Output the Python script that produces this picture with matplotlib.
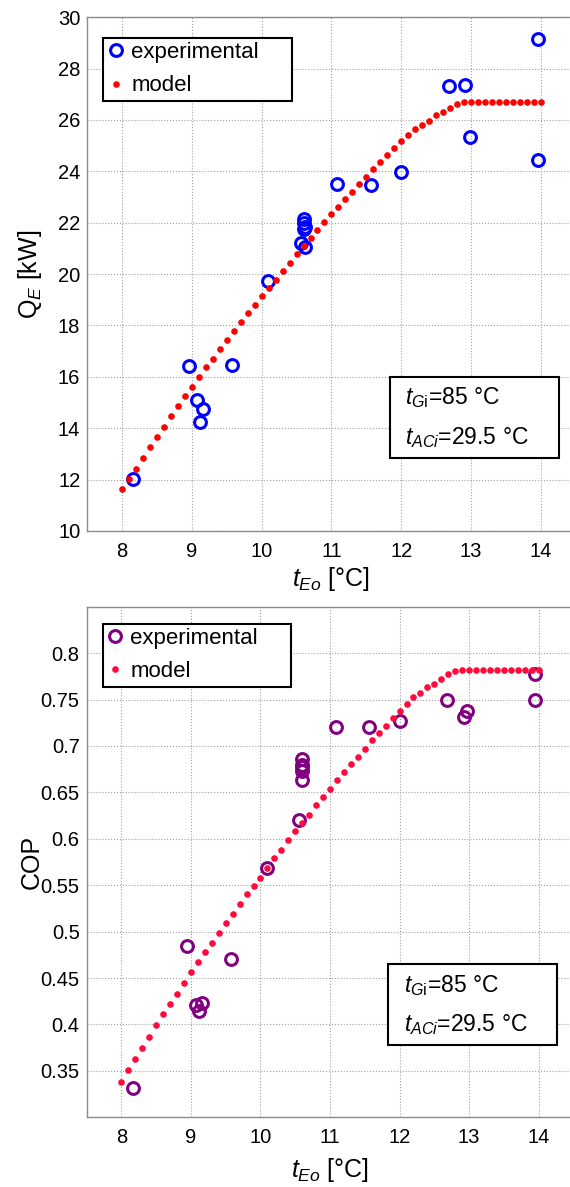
import numpy as np
import matplotlib
matplotlib.use("Agg")
import matplotlib.pyplot as plt
from matplotlib.patches import Rectangle

plt.rcParams['font.family'] = ['Liberation Sans', 'DejaVu Sans']
plt.rcParams['mathtext.fontset'] = 'custom'
plt.rcParams['mathtext.rm'] = 'Liberation Sans'
plt.rcParams['mathtext.it'] = 'Liberation Sans:italic'

# model curve (evaporator outlet temperature grid)
t_model = [8.0, 8.1, 8.2, 8.3, 8.4, 8.5, 8.6, 8.7, 8.8, 8.9,
           9.0, 9.1, 9.2, 9.3, 9.4, 9.5, 9.6, 9.7, 9.8, 9.9,
           10.0, 10.1, 10.2, 10.3, 10.4, 10.5, 10.6, 10.7, 10.8, 10.9,
           11.0, 11.1, 11.2, 11.3, 11.4, 11.5, 11.6, 11.7, 11.8, 11.9,
           12.0, 12.1, 12.2, 12.3, 12.4, 12.5, 12.6, 12.7, 12.8, 12.9,
           13.0, 13.1, 13.2, 13.3, 13.4, 13.5, 13.6, 13.7, 13.8, 13.9, 14.0]

q_model = [11.62, 12.04, 12.41, 12.85, 13.28, 13.66, 14.05, 14.48, 14.87, 15.24,
           15.62, 16.00, 16.37, 16.70, 17.07, 17.45, 17.77, 18.15, 18.48, 18.80,
           19.14, 19.46, 19.78, 20.11, 20.43, 20.77, 21.11, 21.42, 21.71, 22.02,
           22.34, 22.61, 22.94, 23.21, 23.50, 23.79, 24.08, 24.35, 24.63, 24.90,
           25.17, 25.43, 25.65, 25.81, 25.97, 26.18, 26.30, 26.46, 26.62, 26.68,
           26.70, 26.70, 26.70, 26.70, 26.70, 26.70, 26.70, 26.70, 26.70, 26.70, 26.70]

cop_model = [0.338, 0.351, 0.363, 0.375, 0.387, 0.399, 0.411, 0.422, 0.433, 0.445,
             0.456, 0.467, 0.478, 0.488, 0.499, 0.509, 0.519, 0.530, 0.540, 0.549,
             0.558, 0.569, 0.579, 0.588, 0.599, 0.608, 0.617, 0.626, 0.636, 0.645,
             0.654, 0.663, 0.672, 0.681, 0.688, 0.697, 0.706, 0.714, 0.722, 0.730,
             0.738, 0.745, 0.753, 0.757, 0.763, 0.767, 0.772, 0.777, 0.781, 0.782,
             0.782, 0.782, 0.782, 0.782, 0.782, 0.782, 0.782, 0.782, 0.782, 0.782, 0.782]

# experimental points
t_exp_q = [8.16, 8.96, 9.08, 9.11, 9.16, 9.57, 10.09, 10.57, 10.62, 10.60, 10.62,
           10.60, 10.61, 11.08, 11.57, 12.00, 12.68, 12.92, 12.98, 13.96, 13.96]
q_exp = [12.04, 16.42, 15.11, 14.24, 14.74, 16.47, 19.73, 21.22, 21.05, 21.75, 21.85,
         21.98, 22.15, 23.50, 23.47, 23.97, 27.33, 27.38, 25.33, 29.17, 24.46]

t_exp_cop = [8.16, 8.95, 9.07, 9.12, 9.16, 9.58, 10.09, 10.56, 10.60, 10.59, 10.60,
             10.59, 10.60, 11.09, 11.56, 12.00, 12.68, 12.92, 12.97, 13.95, 13.95]
cop_exp = [0.332, 0.484, 0.421, 0.414, 0.423, 0.470, 0.568, 0.620, 0.663, 0.673, 0.677,
           0.680, 0.686, 0.720, 0.720, 0.727, 0.749, 0.731, 0.738, 0.778, 0.749]

xticks = [8, 9, 10, 11, 12, 13, 14]
q_ticks = [10, 12, 14, 16, 18, 20, 22, 24, 26, 28, 30]
cop_ticks = [0.35, 0.4, 0.45, 0.5, 0.55, 0.6, 0.65, 0.7, 0.75, 0.8]
cop_ticklabels = ['0.35', '0.4', '0.45', '0.5', '0.55', '0.6', '0.65', '0.7', '0.75', '0.8']

fig = plt.figure(figsize=(5.70, 11.87), dpi=100)
ax1 = fig.add_axes([0.153, 0.5527, 0.857, 0.4328])
ax2 = fig.add_axes([0.152, 0.0587, 0.854, 0.4302])

spine_col = '#8c8c8c'


def style(ax):
    ax.grid(True, linestyle=':', color='#a0a0a0', linewidth=0.8)
    ax.set_axisbelow(True)
    for s in ax.spines.values():
        s.set_color(spine_col)
        s.set_linewidth(1.0)
    ax.tick_params(axis='both', length=0, labelsize=14.5)
    ax.tick_params(axis='x', pad=8)
    ax.tick_params(axis='y', pad=5)
    ax.set_xlim(7.5, 14.5)
    ax.set_xticks(xticks)


def info_box(ax):
    ax.add_patch(Rectangle((0.620, 0.1415), 0.346, 0.159, transform=ax.transAxes,
                           facecolor='white', edgecolor='black', linewidth=1.5, zorder=5))
    ax.text(0.651, 0.259, r'$t_{G\mathrm{i}}$=85 °C', transform=ax.transAxes,
            fontsize=16.5, va='center', ha='left', zorder=6)
    ax.text(0.651, 0.181, r'$t_{ACi}$=29.5 °C', transform=ax.transAxes,
            fontsize=16.5, va='center', ha='left', zorder=6)


def add_legend(ax, y0, h):
    leg = ax.legend(loc='upper left', bbox_to_anchor=(0.033, y0 - h, 0.387, h), mode='expand',
                    borderaxespad=0, fontsize=16, fancybox=False, edgecolor='black', framealpha=1,
                    handlelength=0.7, handletextpad=0.35, borderpad=0.2, labelspacing=0.55)
    leg.get_frame().set_linewidth(1.5)


# top panel: cooling capacity
style(ax1)
ax1.plot(t_exp_q, q_exp, 'o', mfc='none', mec='#0000ff', mew=2.2, ms=8.5, label='experimental', zorder=3)
ax1.plot(t_model, q_model, '.', color='#ff0000', ms=7.5, label='model', zorder=4)
ax1.set_ylim(10, 30)
ax1.set_yticks(q_ticks)
ax1.set_ylabel(r'Q$_{E}$ [kW]', fontsize=18)
ax1.yaxis.set_label_coords(-0.088, 0.5)
ax1.set_xlabel(r'$t_{Eo}$ [°C]', fontsize=18)
ax1.xaxis.set_label_coords(0.5, -0.066)
add_legend(ax1, 0.960, 0.125)
info_box(ax1)

# bottom panel: COP
style(ax2)
ax2.plot(t_exp_cop, cop_exp, 'o', mfc='none', mec='#800080', mew=2.2, ms=8.5, label='experimental', zorder=3)
ax2.plot(t_model, cop_model, '.', color='#ff0a3c', ms=7.5, label='model', zorder=4)
ax2.set_ylim(0.30, 0.85)
ax2.set_yticks(cop_ticks)
ax2.set_yticklabels(cop_ticklabels)
ax2.set_ylabel('COP', fontsize=18)
ax2.yaxis.set_label_coords(-0.088, 0.5)
ax2.set_xlabel(r'$t_{Eo}$ [°C]', fontsize=18)
ax2.xaxis.set_label_coords(0.5, -0.076)
add_legend(ax2, 0.967, 0.126)
info_box(ax2)

fig.savefig('out.png', dpi=100)
